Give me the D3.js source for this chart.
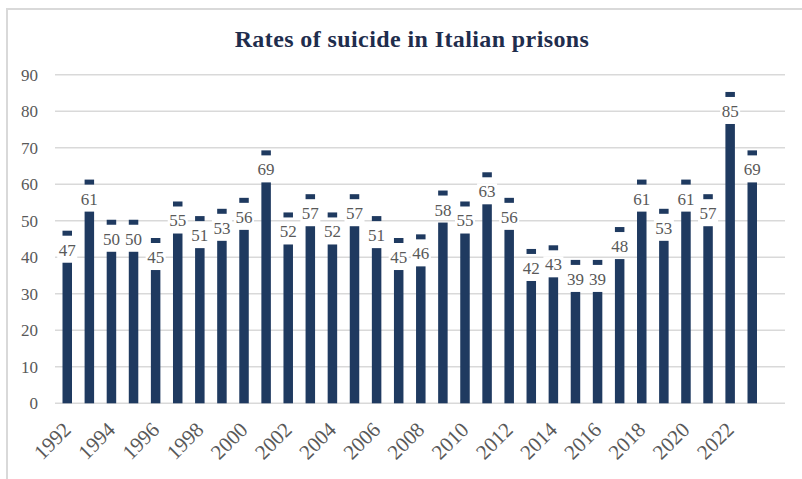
<!DOCTYPE html>
<html>
<head>
<meta charset="utf-8">
<script src="https://cdn.jsdelivr.net/npm/d3@7"></script>
<style>
  body { margin: 0; background: #fff; }
  svg { display: block; }
  text { font-family: "Liberation Serif", "DejaVu Serif", serif; }
</style>
</head>
<body>
<div id="chart"></div>
<script>
// chart data
const years = d3.range(1992, 2024).map(String);
const rates = [47, 61, 50, 50, 45, 55, 51, 53, 56, 69, 52, 57, 52, 57, 51, 45,
               46, 58, 55, 63, 56, 42, 43, 39, 39, 48, 61, 53, 61, 57, 85, 69];
const yTicks = [0, 10, 20, 30, 40, 50, 60, 70, 80, 90];
const xLabels = years.filter((d, i) => i % 2 === 0);

const width = 802, height = 479;
const barColor = "#1f3a60";
const textColor = "#595959";
const gap = 8.5; // space between bar top and cap, in value units

const svg = d3.select("#chart").append("svg")
    .attr("width", width)
    .attr("height", height);

svg.append("rect")
    .attr("width", width).attr("height", height)
    .attr("fill", "#fff");

// outer frame
svg.append("rect")
    .attr("x", 7).attr("y", 9)
    .attr("width", 900).attr("height", 600)
    .attr("fill", "none")
    .attr("stroke", "#d9d9d9")
    .attr("stroke-width", 2);

// title
svg.append("text")
    .attr("x", 412).attr("y", 47)
    .attr("text-anchor", "middle")
    .attr("font-size", 24)
    .attr("font-weight", "bold")
    .attr("letter-spacing", 0.4)
    .attr("fill", "#1f2d4d")
    .text("Rates of suicide in Italian prisons");

const x = d3.scaleBand()
    .domain(years)
    .range([62.5, 757])
    .paddingInner(0.57)
    .paddingOuter(0);

const y = d3.scaleLinear()
    .domain([0, 90])
    .range([403.3, 74.7]);

// gridlines
svg.append("g")
    .selectAll("line")
    .data(yTicks)
    .join("line")
    .attr("x1", 55).attr("x2", 785)
    .attr("y1", d => y(d)).attr("y2", d => y(d))
    .attr("stroke", "#d9d9d9")
    .attr("stroke-width", 1.5);

// y axis labels
svg.append("g")
    .selectAll("text")
    .data(yTicks)
    .join("text")
    .attr("x", 38)
    .attr("y", d => y(d))
    .attr("dy", "0.35em")
    .attr("text-anchor", "end")
    .attr("font-size", 17)
    .attr("fill", textColor)
    .text(d => d);

// bars
svg.append("g")
    .selectAll("rect")
    .data(rates)
    .join("rect")
    .attr("x", (d, i) => x(years[i]))
    .attr("width", x.bandwidth())
    .attr("y", d => y(d - gap))
    .attr("height", d => y(0) - y(d - gap))
    .attr("fill", barColor);

// caps
svg.append("g")
    .selectAll("rect")
    .data(rates)
    .join("rect")
    .attr("x", (d, i) => x(years[i]))
    .attr("width", x.bandwidth())
    .attr("y", d => y(d) - 1)
    .attr("height", 5)
    .attr("fill", barColor);

// value labels with white background
const labels = svg.append("g")
    .selectAll("g")
    .data(rates)
    .join("g")
    .attr("transform", (d, i) => `translate(${x(years[i]) + x.bandwidth() / 2},${y(d) + 24})`);

labels.append("rect")
    .attr("x", -10).attr("y", -14)
    .attr("width", 20).attr("height", 17)
    .attr("fill", "#fff");

labels.append("text")
    .attr("text-anchor", "middle")
    .attr("font-size", 17)
    .attr("fill", textColor)
    .text(d => d);

// x axis labels
svg.append("g")
    .selectAll("text")
    .data(xLabels)
    .join("text")
    .attr("transform", d => `translate(${x(d) + x.bandwidth() / 2 + 5},431) rotate(-45)`)
    .attr("text-anchor", "end")
    .attr("font-size", 21)
    .attr("fill", textColor)
    .text(d => d);
</script>
</body>
</html>
